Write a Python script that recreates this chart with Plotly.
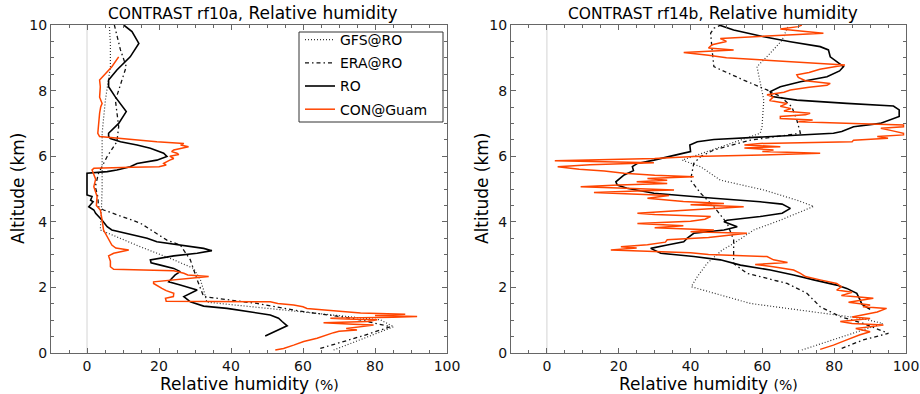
import plotly.graph_objects as go

# ---------------- data: left panel (rf10a) ----------------
l_ro_alt = [0.52,0.65,0.75,0.83,0.96,1.06,1.16,1.26,1.36,1.43,1.56,1.72,1.82,1.92,2.07,2.17,2.28,2.38,2.48,2.58,2.68,2.75,2.84,2.96,3.04,3.12,3.19,3.29,3.39,3.50,3.65,3.75,3.85,4.05,4.26,4.36,4.46,4.61,4.66,4.77,4.82,5.07,5.27,5.43,5.48,5.53,5.58,5.68,5.78,5.88,5.99,6.09,6.24,6.34,6.44,6.54,6.60,6.70,7.00,7.36,7.80,8.12,8.32,8.63,9.03,9.44,9.80,10.0]
l_ro_rh = [49.5,51.9,54.2,55.6,54.2,53.2,50.9,45.4,38.9,32.4,28.7,26.9,28.7,30.6,25.9,22.7,23.6,24.5,25.9,24.1,20.4,17.8,17.6,24.1,30.6,34.7,32.4,25.9,19.4,16.7,11.1,6.9,5.6,4.2,2.4,1.9,0.5,1.7,1.0,1.4,0.0,0.0,0.0,-0.2,0.0,5.6,8.3,12.0,13.9,19.4,22.2,21.3,17.6,13.9,9.3,6.5,6.0,6.0,8.8,10.9,7.9,6.0,6.0,8.3,12.0,14.4,12.5,10.2]

l_gfs_alt = [0.09,0.80,1.01,1.20,1.55,1.92,2.23,2.58,2.84,3.24,3.65,3.75,4.36,5.0,6.0,6.7,7.7,8.73,9.44,10.0]
l_gfs_rh = [68.5,85.2,81.5,65.0,33.3,32.4,31.5,29.6,24.1,14.8,5.6,3.7,4.0,4.2,4.2,4.2,5.1,6.5,6.5,6.2]

l_era_alt = [0.14,0.50,0.80,0.90,1.01,1.11,1.26,1.51,1.72,2.23,2.84,3.29,3.44,3.96,4.36,4.46,4.77,5.07,5.48,5.99,6.44,6.90,7.70,8.32,8.73,9.24,10.0]
l_era_rh = [64.8,75.9,84.3,80.6,75.9,70.4,60.2,47.2,32.4,30.6,28.7,25.9,22.2,14.8,4.6,3.2,3.0,2.3,3.2,5.6,8.3,8.8,7.9,9.7,10.9,9.3,7.6]

l_con_alt = [0.09,0.14,0.24,0.35,0.45,0.55,0.62,0.66,0.70,0.75,0.80,0.85,0.88,0.92,0.96,1.01,1.04,1.06,1.09,1.11,1.14,1.18,1.22,1.26,1.31,1.36,1.41,1.46,1.51,1.56,1.58,1.67,1.72,1.82,1.90,1.97,2.07,2.12,2.17,2.25,2.33,2.38,2.43,2.51,2.55,2.63,2.80,2.96,3.04,3.14,3.20,3.29,3.55,3.75,4.05,4.36,4.50,4.77,5.07,5.30,5.58,5.63,5.66,5.68,5.73,5.78,5.88,5.93,6.00,6.05,6.09,6.14,6.19,6.24,6.29,6.34,6.39,6.44,6.54,6.60,6.70,7.00,7.31,7.50,7.61,7.80,8.12,8.32,8.50,8.73,9.03]
l_con_rh = [52.3,54.6,57.4,60.2,63.9,66.5,68.5,70.0,75.0,72.0,76.0,79.6,74.0,65.7,78.0,80.6,72.0,67.6,85.0,91.7,80.0,88.4,76.0,70.4,66.0,61.1,60.0,57.4,53.0,50.9,22.0,21.8,24.0,24.1,22.0,20.8,19.5,18.5,18.5,27.0,33.8,28.0,26.9,24.1,7.4,6.5,6.5,6.0,7.4,11.6,8.0,6.9,5.6,4.6,4.2,3.7,2.6,2.8,1.9,2.4,1.4,1.9,12.5,20.0,22.0,21.3,23.0,24.1,23.0,25.5,25.0,23.5,24.1,26.0,28.2,26.0,26.9,19.4,9.3,3.5,3.0,3.2,3.5,3.8,4.2,3.5,3.7,3.5,5.0,6.9,8.8]

# ---------------- data: right panel (rf14b) ----------------
r_ro_alt = [1.33,1.49,1.62,1.82,1.97,2.07,2.23,2.38,2.53,2.68,2.84,2.94,3.04,3.19,3.29,3.39,3.50,3.65,3.75,3.85,3.95,4.00,4.05,4.16,4.26,4.41,4.54,4.61,4.72,4.87,5.02,5.12,5.22,5.43,5.56,5.68,5.78,5.88,6.07,6.14,6.34,6.44,6.51,6.60,6.65,6.70,6.75,6.90,7.00,7.21,7.41,7.53,7.61,7.71,7.82,7.97,8.12,8.27,8.42,8.60,8.73,9.03,9.24,9.34,9.49,9.64,9.85,10.0]
r_ro_rh = [90.0,87.7,87.2,86.3,83.5,80.7,74.3,68.7,62.2,53.9,48.3,40.9,31.7,28.9,33.5,38.1,39.1,40.9,49.3,53.0,50.6,49.3,50.2,59.4,65.5,67.8,65.5,59.4,46.5,29.8,22.3,19.6,19.2,21.5,24.1,23.8,25.2,29.8,37.2,40.0,39.8,41.9,46.5,63.1,74.3,79.8,82.1,85.4,92.8,98.1,98.1,96.5,83.5,69.6,62.7,62.2,65.0,70.6,78.0,81.5,82.6,78.9,78.4,76.1,67.8,60.4,52.0,47.9]

r_gfs_alt = [0.09,0.90,1.05,1.31,1.51,2.02,2.33,2.73,3.14,3.34,3.75,4.05,4.47,4.66,4.97,5.27,5.68,5.88,6.70,6.90,7.71,8.73,9.14,9.54,10.0]
r_gfs_rh = [71.0,93.5,88.0,69.6,56.7,40.2,41.9,44.6,48.8,52.0,57.6,65.0,74.3,69.6,60.4,48.3,42.8,37.7,59.4,59.9,60.4,58.5,62.2,65.5,67.3]

r_era_alt = [0.14,0.40,0.60,0.90,1.11,1.41,1.82,2.12,2.43,2.73,3.45,3.95,4.46,4.87,5.27,5.78,5.99,6.19,6.49,6.70,7.10,7.51,7.82,8.02,8.32,8.73,9.24,9.75,9.90,10.0]
r_era_rh = [82.1,88.1,95.1,88.1,81.7,76.1,72.4,66.9,55.7,52.0,52.0,50.2,46.5,42.8,40.0,40.9,42.8,46.5,56.7,70.6,69.6,68.2,65.0,61.3,54.8,46.5,46.0,45.6,46.5,48.5]

r_con_alt = [0.11,0.24,0.40,0.55,0.65,0.75,0.85,0.90,0.96,1.05,1.10,1.16,1.25,1.36,1.41,1.46,1.55,1.67,1.75,1.85,1.92,2.02,2.12,2.23,2.33,2.43,2.53,2.63,2.70,2.76,2.84,2.94,3.00,3.06,3.14,3.20,3.24,3.30,3.38,3.45,3.52,3.58,3.65,3.70,3.75,3.82,3.88,3.95,4.02,4.08,4.16,4.22,4.26,4.33,4.40,4.46,4.52,4.56,4.62,4.72,4.80,4.89,4.94,4.97,5.02,5.07,5.12,5.17,5.22,5.27,5.32,5.37,5.42,5.48,5.55,5.60,5.68,5.74,5.80,5.86,5.93,5.99,6.04,6.09,6.14,6.19,6.25,6.29,6.34,6.39,6.44,6.49,6.55,6.60,6.65,6.70,6.78,6.85,6.90,6.95,7.00,7.05,7.10,7.15,7.21,7.26,7.31,7.38,7.45,7.52,7.61,7.70,7.80,7.87,7.95,8.02,8.10,8.16,8.22,8.30,8.40,8.48,8.55,8.65,8.78,8.85,8.93,9.00,9.08,9.16,9.24,9.30,9.40,9.50,9.59,9.66,9.75,9.80,9.88,9.95,10.0]
r_con_rh = [76.1,79.8,83.5,87.0,90.0,86.0,93.7,85.0,81.7,90.0,85.0,88.1,92.0,94.6,88.0,90.0,84.0,90.9,82.0,85.0,80.7,82.0,80.7,76.1,72.0,70.6,68.7,63.0,58.0,67.0,63.1,61.3,45.0,40.0,17.8,25.0,20.6,28.0,33.0,33.5,45.0,50.0,55.7,40.0,46.5,30.0,38.0,25.2,40.0,44.0,45.6,30.0,25.2,35.0,45.0,54.8,40.0,49.3,38.0,28.0,34.0,13.1,25.0,35.4,22.0,9.4,20.0,33.5,25.0,33.5,28.0,40.9,30.0,21.5,16.0,9.0,3.0,12.0,29.8,2.2,30.0,40.9,60.0,76.1,60.0,63.1,55.0,65.0,55.0,59.4,85.0,85.4,95.0,92.0,99.3,99.3,96.0,93.0,99.3,99.3,85.4,70.0,74.0,65.0,65.0,72.0,73.3,66.0,68.0,65.0,66.9,62.0,63.0,61.3,66.0,67.8,73.0,78.0,78.9,72.0,70.0,69.6,73.0,76.0,83.0,72.0,57.6,50.0,45.0,38.1,52.0,45.0,46.0,50.0,48.3,60.0,77.0,72.0,65.0,70.0,71.0]

titles = ["CONTRAST rf10a,", "CONTRAST rf14b,"]
title_main = "Relative humidity"
xlabel = "Relative humidity"
xunit = "(%)"
ylabel = "Altitude (km)"
names = ["GFS@RO", "ERA@RO", "RO", "CON@Guam"]

ORANGE = "#ff4500"
FONT = "DejaVu Sans"

fig = go.Figure()

panels = [
    (l_gfs_alt, l_gfs_rh, l_era_alt, l_era_rh, l_ro_alt, l_ro_rh, l_con_alt, l_con_rh),
    (r_gfs_alt, r_gfs_rh, r_era_alt, r_era_rh, r_ro_alt, r_ro_rh, r_con_alt, r_con_rh),
]
styles = [
    dict(color="#333333", width=1.2, dash="1px,2px"),
    dict(color="#111111", width=1.3, dash="4px,3px,1.5px,3px"),
    dict(color="black", width=1.6),
    dict(color=ORANGE, width=1.5),
]
for i, p in enumerate(panels):
    xa = "x" if i == 0 else "x2"
    ya = "y" if i == 0 else "y2"
    show = i == 0
    fig.add_trace(go.Scatter(x=[0, 0], y=[0, 10], mode="lines", xaxis=xa, yaxis=ya,
                             line=dict(color="#d4d4d4", width=1), showlegend=False, hoverinfo="skip"))
    for k in range(4):
        fig.add_trace(go.Scatter(x=p[2 * k + 1], y=p[2 * k], mode="lines", name=names[k],
                                 xaxis=xa, yaxis=ya, line=styles[k], showlegend=show,
                                 legendgroup=names[k]))

W, H = 920, 394
xdom = [[51 / W, 447 / W], [511 / W, 906 / W]]
ydom = [1 - 353 / H, 1 - 25 / H]

axis_common = dict(showgrid=False, zeroline=False, showline=True, linecolor="#666666", linewidth=1,
                   mirror="ticks", ticks="inside", ticklen=5, tickcolor="#666666",
                   tickfont=dict(family=FONT, size=14, color="#111111"), automargin=False)
minor_x = dict(dtick=5, ticks="inside", ticklen=3, tickcolor="#666666")
minor_y = dict(dtick=0.5, ticks="inside", ticklen=3, tickcolor="#666666")

fig.update_layout(
    width=W, height=H, margin=dict(l=0, r=0, t=0, b=0),
    paper_bgcolor="white", plot_bgcolor="white",
    font=dict(family=FONT, color="black"),
    xaxis=dict(domain=xdom[0], range=[-10, 100], dtick=20, anchor="y", minor=minor_x, **axis_common),
    yaxis=dict(domain=ydom, range=[0, 10], dtick=2, anchor="x", minor=minor_y, **axis_common),
    xaxis2=dict(domain=xdom[1], range=[-10, 100], dtick=20, anchor="y2", minor=minor_x, **axis_common),
    yaxis2=dict(domain=ydom, range=[0, 10], dtick=2, anchor="x2", minor=minor_y, **axis_common),
    legend=dict(x=300 / W, y=1 - 24 / H, xanchor="left", yanchor="top",
                borderwidth=0, bgcolor="rgba(0,0,0,0)",
                font=dict(family=FONT, size=14, color="black"), tracegroupgap=2,
                itemwidth=30),
    showlegend=True,
    # legend frame (decoration only)
    shapes=[dict(type="rect", xref="paper", yref="paper",
                 x0=299 / W, x1=443 / W, y0=1 - 122 / H, y1=1 - 32 / H,
                 line=dict(color="#333333", width=1), fillcolor="white", layer="below")],
)

ann = []
for i in range(2):
    cx = (xdom[i][0] + xdom[i][1]) / 2
    ann.append(dict(xref="paper", yref="paper", x=cx + 4 / W, y=1 - 25 / H, xanchor="center", yanchor="bottom",
                    showarrow=False,
                    text=f"<span style='font-size:15.5px'>{titles[i]}</span> <span style='font-size:17px'>{title_main}</span>",
                    font=dict(family=FONT, size=17, color="black")))
    ann.append(dict(xref="paper", yref="paper", x=cx, y=-2 / H, xanchor="center", yanchor="bottom",
                    showarrow=False,
                    text=f"{xlabel} <span style='font-size:14px'>{xunit}</span>",
                    font=dict(family=FONT, size=17, color="black")))
    lx = 18 if i == 0 else 482
    ann.append(dict(xref="paper", yref="paper", x=lx / W, y=1 - 188 / H,
                    xanchor="center", yanchor="middle", textangle=-90, showarrow=False,
                    text=ylabel, font=dict(family=FONT, size=17, color="black")))
fig.update_layout(annotations=ann)

fig.write_html("out.html")
